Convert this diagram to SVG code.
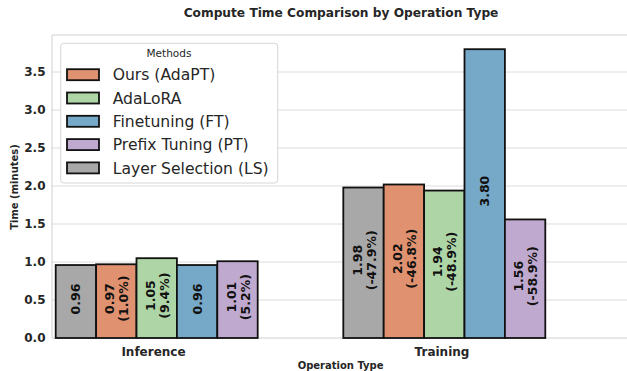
<svg xmlns="http://www.w3.org/2000/svg" width="627" height="371" viewBox="0 0 627 371">
<style>
text{font-family:"DejaVu Sans","Liberation Sans",sans-serif;fill:#262626}
.b{font-weight:bold}
.grid{stroke:#dcdcdc;stroke-width:1}
.spine{stroke:#d0d0d0;stroke-width:1;fill:none}
.bar{stroke:#111;stroke-width:1.8}
.lab{font-weight:bold;font-size:12.5px;fill:#111;text-anchor:middle;dominant-baseline:central}
.tick{font-weight:bold;font-size:12px;text-anchor:end}
.c-ours{fill:#e0916f}.c-ada{fill:#aed5a6}.c-ft{fill:#76a8c7}.c-pt{fill:#c0a9ce}.c-ls{fill:#a8a8a8}
.leg{font-size:15.6px}
</style>
<rect width="627" height="371" fill="#fff"/>
<text x="341" y="17" class="b" font-size="12.2" text-anchor="middle">Compute Time Comparison by Operation Type</text>
<g id="axes">
<line class="grid" x1="52" y1="300" x2="627" y2="300"/>
<line class="grid" x1="52" y1="262" x2="627" y2="262"/>
<line class="grid" x1="52" y1="224" x2="627" y2="224"/>
<line class="grid" x1="52" y1="186" x2="627" y2="186"/>
<line class="grid" x1="52" y1="148" x2="627" y2="148"/>
<line class="grid" x1="52" y1="110" x2="627" y2="110"/>
<line class="grid" x1="52" y1="72" x2="627" y2="72"/>
<line class="spine" x1="52" y1="35" x2="627" y2="35"/>
<line class="spine" x1="52" y1="35" x2="52" y2="338"/>
<line class="spine" x1="52" y1="338" x2="627" y2="338"/>
<text class="tick" x="45.5" y="342.4">0.0</text>
<text class="tick" x="45.5" y="304.4">0.5</text>
<text class="tick" x="45.5" y="266.4">1.0</text>
<text class="tick" x="45.5" y="228.4">1.5</text>
<text class="tick" x="45.5" y="190.4">2.0</text>
<text class="tick" x="45.5" y="152.4">2.5</text>
<text class="tick" x="45.5" y="114.4">3.0</text>
<text class="tick" x="45.5" y="76.4">3.5</text>
<text class="b" font-size="10" text-anchor="middle" transform="translate(18.3,187) rotate(-90)">Time (minutes)</text>
<text class="b" font-size="12" text-anchor="middle" x="153.5" y="355.5">Inference</text>
<text class="b" font-size="12" text-anchor="middle" x="442" y="355.5">Training</text>
<text class="b" font-size="10" text-anchor="middle" x="340.6" y="369">Operation Type</text>
</g>
<g id="bars-inference">
<g id="inf-ls"><rect class="bar c-ls" x="55.7" y="265.04" width="40.4" height="72.96"/><text class="lab" transform="translate(75.9,299) rotate(-90)">0.96</text></g>
<g id="inf-ours"><rect class="bar c-ours" x="96.1" y="264.28" width="40.4" height="73.72"/><text class="lab" transform="translate(116.3,298.6) rotate(-90)"><tspan x="0" y="-7">0.97</tspan><tspan x="0" y="7">(1.0%)</tspan></text></g>
<g id="inf-ada"><rect class="bar c-ada" x="136.5" y="258.2" width="40.4" height="79.8"/><text class="lab" transform="translate(156.7,295.6) rotate(-90)"><tspan x="0" y="-7">1.05</tspan><tspan x="0" y="7">(9.4%)</tspan></text></g>
<g id="inf-ft"><rect class="bar c-ft" x="176.9" y="265.04" width="40.4" height="72.96"/><text class="lab" transform="translate(197.1,299) rotate(-90)">0.96</text></g>
<g id="inf-pt"><rect class="bar c-pt" x="217.3" y="261.24" width="40.4" height="76.76"/><text class="lab" transform="translate(237.5,297.1) rotate(-90)"><tspan x="0" y="-7">1.01</tspan><tspan x="0" y="7">(5.2%)</tspan></text></g>
</g>
<g id="bars-training">
<g id="tr-ls"><rect class="bar c-ls" x="343.3" y="187.52" width="40.4" height="150.48"/><text class="lab" transform="translate(363.5,260.3) rotate(-90)"><tspan x="0" y="-7">1.98</tspan><tspan x="0" y="7">(-47.9%)</tspan></text></g>
<g id="tr-ours"><rect class="bar c-ours" x="383.7" y="184.48" width="40.4" height="153.52"/><text class="lab" transform="translate(403.9,258.7) rotate(-90)"><tspan x="0" y="-7">2.02</tspan><tspan x="0" y="7">(-46.8%)</tspan></text></g>
<g id="tr-ada"><rect class="bar c-ada" x="424.1" y="190.56" width="40.4" height="147.44"/><text class="lab" transform="translate(444.3,261.8) rotate(-90)"><tspan x="0" y="-7">1.94</tspan><tspan x="0" y="7">(-48.9%)</tspan></text></g>
<g id="tr-ft"><rect class="bar c-ft" x="464.5" y="49.2" width="40.4" height="288.8"/><text class="lab" transform="translate(484.7,191.1) rotate(-90)">3.80</text></g>
<g id="tr-pt"><rect class="bar c-pt" x="504.9" y="219.44" width="40.4" height="118.56"/><text class="lab" transform="translate(525.1,276.2) rotate(-90)"><tspan x="0" y="-7">1.56</tspan><tspan x="0" y="7">(-58.9%)</tspan></text></g>
</g>
<g id="legend">
<rect x="60.7" y="43.3" width="217" height="139.7" rx="3" fill="#fff" fill-opacity="0.9" stroke="#d6d6d6" stroke-width="1"/>
<text x="169" y="57" font-size="10.5" text-anchor="middle">Methods</text>
<rect class="bar c-ours" x="67" y="69.2" width="32" height="11"/><text class="leg" x="112.7" y="80.3">Ours (AdaPT)</text>
<rect class="bar c-ada" x="67" y="92.5" width="32" height="11"/><text class="leg" x="112.7" y="103.6">AdaLoRA</text>
<rect class="bar c-ft" x="67" y="115.8" width="32" height="11"/><text class="leg" x="112.7" y="126.9">Finetuning (FT)</text>
<rect class="bar c-pt" x="67" y="139.1" width="32" height="11"/><text class="leg" x="112.7" y="150.2">Prefix Tuning (PT)</text>
<rect class="bar c-ls" x="67" y="162.4" width="32" height="11"/><text class="leg" x="112.7" y="173.5">Layer Selection (LS)</text>
</g>
</svg>
